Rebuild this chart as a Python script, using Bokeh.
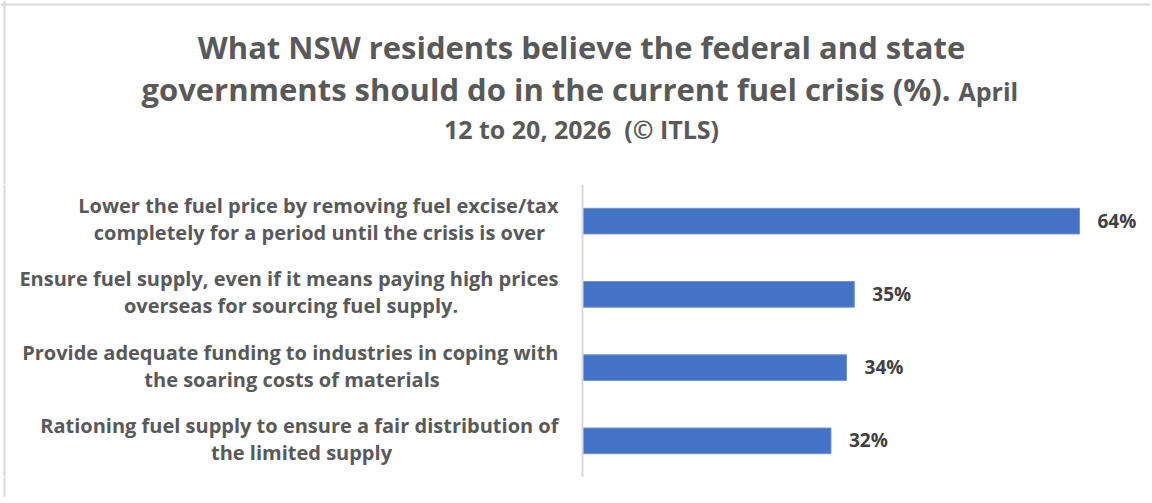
from bokeh.plotting import figure
from bokeh.models import ColumnDataSource, Span, FactorRange, Range1d
from bokeh.layouts import column
from bokeh.core.properties import value
from bokeh.embed import file_html
from bokeh.resources import INLINE

# ---- data ----
categories = [
    "Lower the fuel price by removing fuel excise/tax\ncompletely for a period until the crisis is over",
    "Ensure fuel supply, even if it means paying high prices\noverseas for sourcing fuel supply.",
    "Provide adequate funding to industries in coping with\nthe soaring costs of materials",
    "Rationing fuel supply to ensure a fair distribution of\nthe limited supply",
]
values = [64, 35, 34, 32]
value_labels = ["64%", "35%", "34%", "32%"]
title_line1 = "What NSW residents believe the federal and state"
title_line2 = "governments should do in the current fuel crisis (%)."
title_small_a = "April"
title_small_b = "12 to 20, 2026\u00a0 (\u00a9 ITLS)"

FONT = "Open Sans"
GREY = "#595959"
BORDER = "#d9d9d9"
W = 1150
TITLE_H = 184
ZERO_X = 582                 # page x of the zero line
PPU = (1079 - ZERO_X) / 64.0  # pixels per percentage unit

# ---- title figure ----
t = figure(width=W, height=TITLE_H, x_range=Range1d(0, W), y_range=Range1d(TITLE_H, 0),
           x_axis_location=None, y_axis_location=None, toolbar_location=None,
           output_backend="svg", min_border=0, outline_line_color=None)
t.grid.visible = False
cx = 581
common = dict(text_font=value(FONT), text_font_style="bold", text_color=GREY,
              text_baseline="middle")
t.text(x=[cx], y=[46.5], text=[title_line1], text_align="center", text_font_size="31px", **common)
t.text(x=[950], y=[88.5], text=[title_line2], text_align="right", text_font_size="31px", **common)
t.text(x=[958], y=[90.8], text=[title_small_a], text_align="left", text_font_size="25px", **common)
t.text(x=[cx], y=[128.5], text=[title_small_b], text_align="center", text_font_size="25px", **common)
t.add_layout(Span(location=4, dimension="width", line_color=BORDER, line_width=2))
t.add_layout(Span(location=4, dimension="height", line_color=BORDER, line_width=2))

# ---- chart figure ----
factors = list(reversed(categories))
line1 = [c.split("\n")[0] for c in categories]
line2 = [c.split("\n")[1] for c in categories]
center_off = [-263, -291.5, -290.5, -281]
src = ColumnDataSource(dict(cat=categories, val=values, lab=value_labels,
                            l1=line1, l2=line2, c2=center_off))

x_start = -ZERO_X / PPU
x_end = (W - ZERO_X) / PPU
p = figure(width=W, height=293, y_range=FactorRange(factors=factors, range_padding=0),
           x_range=Range1d(x_start, x_end),
           x_axis_location=None, y_axis_location=None, toolbar_location=None,
           output_backend="svg", min_border=0, outline_line_color=None)
p.grid.visible = False
p.hbar(y="cat", right="val", left=0, height=0.35, source=src, fill_color="#4472C4",
       line_color="#6E93D6", line_width=1)
p.add_layout(Span(location=0, dimension="height", line_color=BORDER, line_width=2))
p.add_layout(Span(location=x_start + 4.0 / PPU, dimension="height", line_color=BORDER,
                  line_width=2))

p.text(x="val", y="cat", text="lab", source=src, x_offset=18, y_offset=-0.5, text_align="left",
       text_baseline="middle", text_font=value(FONT), text_font_style="bold",
       text_font_size="19px", text_color="#404040")
p.text(x=0, y="cat", text="l1", source=src, x_offset=-24, y_offset=-15.5, text_align="right",
       text_baseline="middle", text_font=value(FONT), text_font_style="bold",
       text_font_size="20px", text_color=GREY)
p.text(x=0, y="cat", text="l2", source=src, x_offset="c2", y_offset=11.5, text_align="center",
       text_baseline="middle", text_font=value(FONT), text_font_style="bold",
       text_font_size="20px", text_color=GREY)

# ---- bottom strip (continues the chart border) ----
b = figure(width=W, height=20, x_range=Range1d(0, W), y_range=Range1d(0, 20),
           x_axis_location=None, y_axis_location=None, toolbar_location=None,
           output_backend="svg", min_border=0, outline_line_color=None)
b.grid.visible = False
b.add_layout(Span(location=4, dimension="height", line_color=BORDER, line_width=2))

layout = column(t, p, b, spacing=0)
open("out.html", "w").write(file_html(layout, INLINE))
